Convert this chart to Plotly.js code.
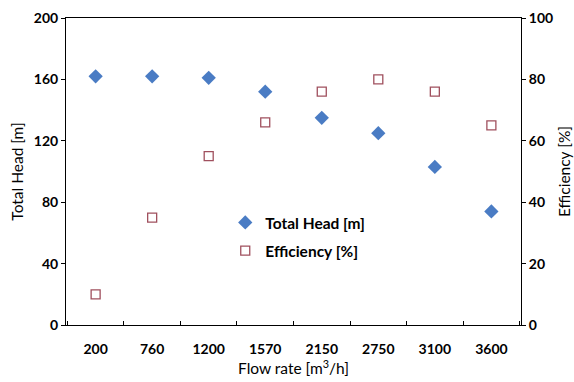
<!DOCTYPE html>
<html>
<head>
<meta charset="utf-8">
<script src="https://cdn.plot.ly/plotly-3.0.1.min.js"></script>
<style>html,body{margin:0;padding:0;background:#fff;}#chart{width:574px;height:382px;}</style>
</head>
<body>
<div id="chart"></div>
<script>
const flowRates = ["200", "760", "1200", "1570", "2150", "2750", "3100", "3600"];
const totalHead = [162, 162, 161, 152, 135, 125, 103, 74];
const efficiency = [10, 35, 55, 66, 76, 80, 76, 65];
const headTicks = [0, 40, 80, 120, 160, 200];
const effTicks = [0, 20, 40, 60, 80, 100];

const FONT = "Lato, 'Open Sans', sans-serif";

const traces = [
  {
    x: flowRates, y: totalHead, name: "Total Head [m]", type: "scatter", mode: "markers",
    marker: {symbol: "diamond", size: 11, color: "#4A7CC4"},
    legendgroup: "a", yaxis: "y"
  },
  {
    x: flowRates, y: efficiency, name: "Efficiency [%]", type: "scatter", mode: "markers",
    marker: {symbol: "square-open", size: 9, color: "#A0505E", line: {width: 1.3}},
    legendgroup: "b", yaxis: "y2"
  }
];

const layout = {
  width: 574, height: 382,
  margin: {l: 66, r: 53, t: 18, b: 57},
  paper_bgcolor: "#fff", plot_bgcolor: "#fff",
  font: {family: FONT, color: "#000", size: 13},
  showlegend: true,
  legend: {
    x: 0.35, y: 0.388, xanchor: "left", yanchor: "top",
    font: {family: FONT, size: 15.5, weight: "bold"},
    bgcolor: "rgba(0,0,0,0)", tracegroupgap: 5, itemwidth: 30
  },
  xaxis: {
    type: "category", categoryorder: "array", categoryarray: flowRates,
    showline: true, linecolor: "#000", linewidth: 1, mirror: true,
    ticks: "inside", ticklen: 4, tickcolor: "#000", tickson: "boundaries",
    tickfont: {family: FONT, size: 14, weight: "bold"},
    ticklabelstandoff: 11,
    showgrid: false, zeroline: false,
    title: {text: "Flow rate [m<sup>3</sup>/h]", font: {family: FONT, size: 15.5}, standoff: 4}
  },
  yaxis: {
    range: [0, 200], tickvals: headTicks,
    showline: true, linecolor: "#000", linewidth: 1,
    ticks: "outside", ticklen: 4, tickcolor: "#000",
    tickfont: {family: FONT, size: 14, weight: "bold"},
    showgrid: false, zeroline: false,
    title: {text: "Total Head [m]", font: {family: FONT, size: 15.5}, standoff: 6}
  },
  yaxis2: {
    range: [0, 100], tickvals: effTicks, overlaying: "y", side: "right",
    showline: true, linecolor: "#000", linewidth: 1,
    ticks: "outside", ticklen: 4, tickcolor: "#000",
    tickfont: {family: FONT, size: 14, weight: "bold"},
    showgrid: false, zeroline: false,
    title: {text: "Efficiency [%]", font: {family: FONT, size: 15.5}, standoff: 6}
  }
};

Plotly.newPlot("chart", traces, layout, {displayModeBar: false, staticPlot: true});
</script>
</body>
</html>
